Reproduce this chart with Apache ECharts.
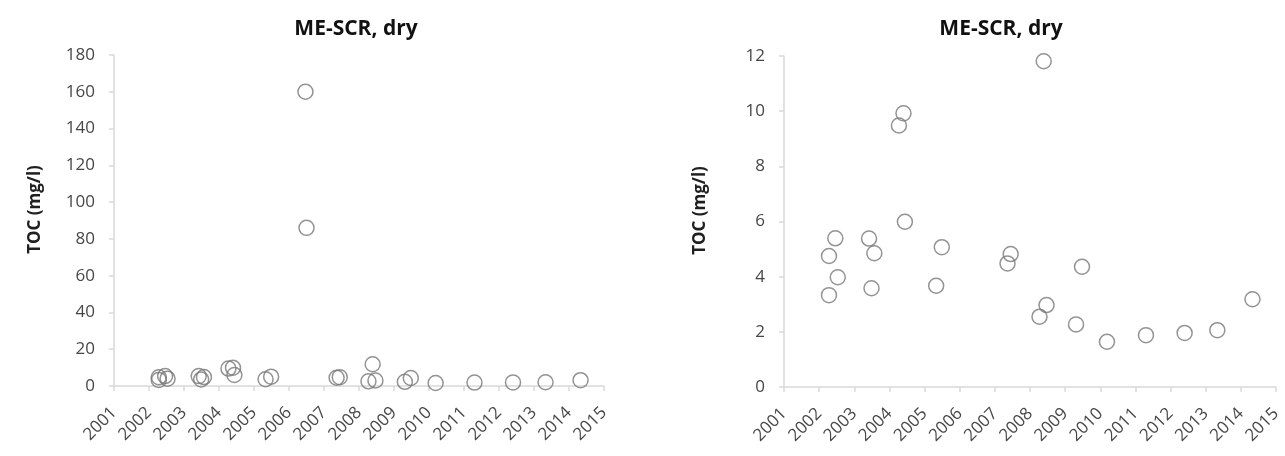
<!DOCTYPE html>
<html>
<head>
<meta charset="utf-8">
<script src="https://cdn.jsdelivr.net/npm/echarts@6/dist/echarts.min.js"></script>
<style>
html,body{margin:0;padding:0;background:#fff;}
#c{width:1285px;height:456px;}
</style>
</head>
<body>
<div id="c"></div>
<script>
// Sampling dates (decimal years) and TOC values (mg/l)
const sampleYears = [2002.28, 2002.28, 2002.46, 2002.53, 2003.42, 2003.57, 2003.49,
  2004.27, 2004.40, 2004.44, 2005.33, 2005.49, 2006.47, 2006.50,
  2007.36, 2007.45, 2008.39, 2008.27, 2008.47, 2009.31, 2009.48,
  2010.19, 2011.30, 2012.40, 2013.33, 2014.33];
const tocValues = [3.33, 4.75, 5.39, 3.98, 5.38, 4.85, 3.58,
  9.48, 9.92, 5.99, 3.67, 5.07, 160, 86,
  4.48, 4.82, 11.81, 2.55, 2.97, 2.27, 4.36,
  1.64, 1.88, 1.96, 2.06, 3.18];
const chartTitle = 'ME-SCR, dry';
const yAxisName = 'TOC (mg/l)';
const xTickMin = 2001, xTickMax = 2015, xTickStep = 1;
const leftYMax = 180, leftYStep = 20;
const rightYMax = 12, rightYStep = 2;

const points = sampleYears.map((x, i) => [x, tocValues[i]]);

const axisColor = '#d9d9d9';
const labelColor = '#474747';
const fontFam = '"Open Sans", "Noto Sans", sans-serif';

function xAxisCfg(gridIndex) {
  return {
    type: 'value', gridIndex, min: xTickMin, max: xTickMax, interval: xTickStep,
    axisLine: { show: true, onZero: false, lineStyle: { color: axisColor, width: 1.5 } },
    axisTick: { show: true, length: 5, lineStyle: { color: axisColor, width: 1.5 } },
    splitLine: { show: false },
    axisLabel: { rotate: 45, color: labelColor, fontSize: 17, fontFamily: fontFam, margin: 24,
      formatter: v => String(v) }
  };
}
function yAxisCfg(gridIndex, max, step, gap) {
  return {
    type: 'value', gridIndex, min: 0, max, interval: step,
    name: yAxisName, nameLocation: 'middle', nameGap: gap,
    nameTextStyle: { fontWeight: 'bold', fontSize: 17, color: '#1f1f1f', fontFamily: fontFam,
      padding: [0, 0, 0, 22] },
    axisLine: { show: true, lineStyle: { color: axisColor, width: 1.5 } },
    axisTick: { show: true, length: 5, lineStyle: { color: axisColor, width: 1.5 } },
    splitLine: { show: false },
    axisLabel: { color: labelColor, fontSize: 17, fontFamily: fontFam, margin: 19 }
  };
}
function seriesCfg(idx) {
  return {
    type: 'scatter', xAxisIndex: idx, yAxisIndex: idx, data: points, clip: true,
    symbol: 'circle', symbolSize: 15,
    itemStyle: { color: 'rgba(0,0,0,0)', borderColor: '#787878', borderWidth: 1.5 },
    emphasis: { disabled: true }
  };
}

const chart = echarts.init(document.getElementById('c'), null, { renderer: 'canvas' });
chart.setOption({
  animation: false,
  backgroundColor: '#fff',
  title: [
    { text: chartTitle, left: 351, top: 14, textAlign: 'center',
      textStyle: { fontSize: 21, fontWeight: 'bold', color: '#111', fontFamily: fontFam } },
    { text: chartTitle, left: 996, top: 14, textAlign: 'center',
      textStyle: { fontSize: 21, fontWeight: 'bold', color: '#111', fontFamily: fontFam } }
  ],
  grid: [
    { left: 114, right: 681, top: 55, bottom: 70, containLabel: false },
    { left: 784, right: 9, top: 56, bottom: 69, containLabel: false }
  ],
  xAxis: [xAxisCfg(0), xAxisCfg(1)],
  yAxis: [yAxisCfg(0, leftYMax, leftYStep, 70), yAxisCfg(1, rightYMax, rightYStep, 75)],
  series: [seriesCfg(0), seriesCfg(1)]
});
</script>
</body>
</html>
